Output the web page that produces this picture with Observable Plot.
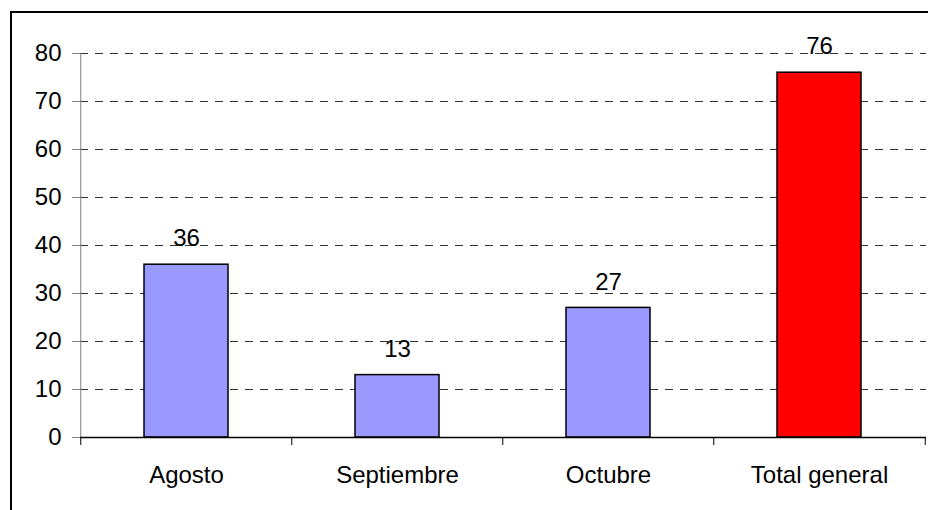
<!DOCTYPE html>
<html><head><meta charset="utf-8">
<script src="https://cdn.jsdelivr.net/npm/d3@7"></script>
<script src="https://cdn.jsdelivr.net/npm/@observablehq/plot@0.6"></script>
<style>
html,body{margin:0;padding:0;background:#fff;}
#wrap{position:relative;width:928px;height:510px;overflow:hidden;}
#frame{position:absolute;left:10px;top:11px;width:940px;height:540px;border-left:2px solid #000;border-top:2px solid #000;}
#chart{position:absolute;left:0;top:0;}
</style></head><body>
<div id="wrap"><div id="frame"></div><div id="chart"></div></div>
<script>
const categories = ["Agosto", "Septiembre", "Octubre", "Total general"];
const values = [36, 13, 27, 76];
const yTicks = [0, 10, 20, 30, 40, 50, 60, 70, 80];
const totalCategory = "Total general";

const data = categories.map((c, i) => ({category: c, value: values[i]}));
const W = 928, H = 510, mL = 80, mR = 2, mT = 53, mB = 73;
const FS = 24;
const step = (W - mL - mR) / categories.length;
const yMin = yTicks[0], yMax = yTicks[yTicks.length - 1];

const chart = Plot.plot({
  width: W, height: H,
  marginLeft: mL, marginRight: mR, marginTop: mT, marginBottom: mB,
  style: {font: `${FS}px 'Liberation Sans', Arial, sans-serif`, color: "#000", background: "transparent"},
  x: {domain: categories, paddingInner: 0.6, paddingOuter: 0.3, label: null},
  y: {domain: [yMin, yMax], label: null},
  color: {domain: ["mes", "total"], range: ["#9999ff", "#ff0000"]},
  marks: [
    Plot.gridY(yTicks, {stroke: "#000", strokeOpacity: 0.8, strokeDasharray: "8,7", strokeWidth: 1}),
    Plot.axisY(yTicks, {tickSize: 8, tickPadding: 11, stroke: "#808080", strokeOpacity: 1, fontSize: FS, label: null}),
    Plot.ruleX([categories[0]], {x: d => d, dx: -step / 2, y1: yMin, y2: yMax, stroke: "#808080"}),
    Plot.barY(data, {x: "category", y: "value", fill: d => d.category === totalCategory ? "total" : "mes", stroke: "#000", strokeWidth: 1.5}),
    Plot.ruleY([yMin], {stroke: "#000", strokeWidth: 1.5}),
    Plot.ruleX(categories, {x: d => d, dx: -step / 2, y1: yMin, y2: yMin, insetBottom: -8, stroke: "#000"}),
    Plot.ruleX([categories[categories.length - 1]], {x: d => d, dx: step / 2, y1: yMin, y2: yMin, insetBottom: -8, stroke: "#000"}),
    Plot.text(data, {x: "category", y: "value", text: d => String(d.value), dy: -26, fill: "#000", fontSize: FS}),
    Plot.axisX({tickSize: 0, tickPadding: 28, fontSize: FS, label: null})
  ]
});
document.getElementById("chart").appendChild(chart);
</script>
</body></html>
